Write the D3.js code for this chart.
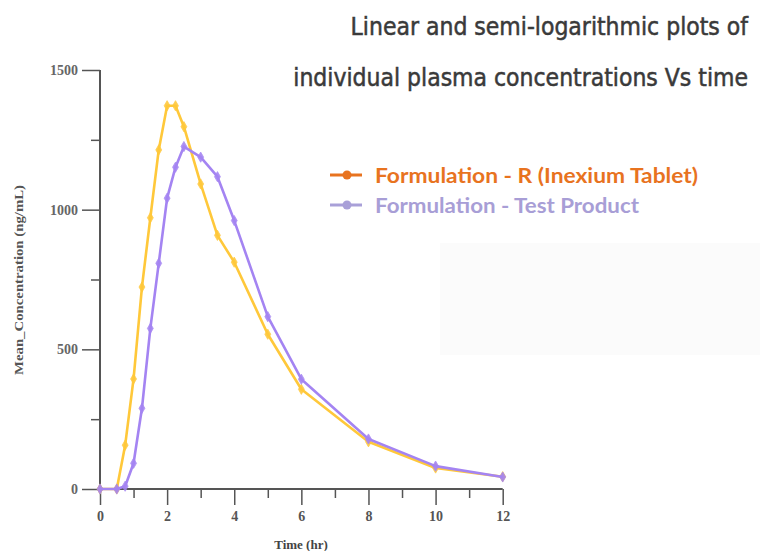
<!DOCTYPE html>
<html>
<head>
<meta charset="utf-8">
<script src="https://cdn.jsdelivr.net/npm/d3@7/dist/d3.min.js"></script>
<style>
  html, body { margin: 0; padding: 0; background: #fff; }
  svg { display: block; }
</style>
</head>
<body>
<svg id="chart" width="760" height="551"></svg>
<script>
// ---- data ----
const times = [0, 0.5, 0.75, 1, 1.25, 1.5, 1.75, 2, 2.25, 2.5, 3, 3.5, 4, 5, 6, 8, 10, 12];
const refValues  = [0, 0, 157, 394, 723, 971, 1214, 1372, 1372, 1297, 1092, 908, 812, 554, 357, 169, 75, 44];
const testValues = [0, 0, 10, 92, 289, 575, 808, 1041, 1152, 1226, 1188, 1118, 961, 617, 393, 179, 82, 43];
const seriesNames = ["Formulation - R (Inexium Tablet)", "Formulation - Test Product"];
const xTickValues = [0, 2, 4, 6, 8, 10, 12];
const xMinorTicks = [1, 3, 5, 7, 9, 11];
const yTickValues = [0, 500, 1000, 1500];
const yMinorTicks = [250, 750, 1250];
const titleLines = ["Linear and semi-logarithmic plots of", "individual plasma concentrations Vs time"];
const xLabel = "Time (hr)";
const yLabel = "Mean_Concentration (ng/mL)";

// ---- layout ----
const svg = d3.select("#chart");
const x = d3.scaleLinear().domain([0, 12]).range([100, 502.7]);
const y = d3.scaleLinear().domain([0, 1500]).range([489, 70]);
const axisColor = "#555";
const serif = "'Liberation Serif', 'DejaVu Serif', serif";

// faint background box
svg.append("rect").attr("x", 440).attr("y", 243).attr("width", 320).attr("height", 112)
  .attr("fill", "#fbfbfb");

// title (font size fitted to the reference width of the second line)
const titleFont = "'DejaVu Sans Condensed', 'Liberation Sans Narrow', sans-serif";
const titleTexts = titleLines.map((t, i) => svg.append("text")
  .attr("x", 748).attr("y", i === 0 ? 35 : 86).attr("text-anchor", "end")
  .attr("font-family", titleFont).attr("font-size", 26).attr("fill", "#3a3a3a")
  .attr("stroke", "#3a3a3a").attr("stroke-width", 0.5)
  .text(t));
const w2 = titleTexts[1].node().getComputedTextLength();
const fitSize = Math.min(28, 26 * 455 / w2);
titleTexts.forEach(t => t.attr("font-size", fitSize));

// y axis
const yAxis = d3.axisLeft(y).tickValues(yTickValues).tickSize(18).tickPadding(4).tickFormat(d3.format("d"));
const gy = svg.append("g").attr("transform", "translate(100,0)").call(yAxis);
gy.select(".domain").remove();
gy.selectAll(".tick line").attr("stroke", axisColor).attr("stroke-width", 1.5);
gy.selectAll(".tick text").attr("font-family", serif).attr("font-size", 14)
  .attr("font-weight", "bold").attr("fill", "#666");
const yMinor = d3.axisLeft(y).tickValues(yMinorTicks).tickSize(9).tickFormat("");
const gym = svg.append("g").attr("transform", "translate(100,0)").call(yMinor);
gym.select(".domain").remove();
gym.selectAll(".tick line").attr("stroke", axisColor).attr("stroke-width", 1.5);

// x axis
const xAxis = d3.axisBottom(x).tickValues(xTickValues).tickSize(16).tickPadding(6).tickFormat(d3.format("d"));
const gx = svg.append("g").attr("transform", "translate(0,489)").call(xAxis);
gx.select(".domain").remove();
gx.selectAll(".tick line").attr("stroke", axisColor).attr("stroke-width", 1.5);
gx.selectAll(".tick text").attr("font-family", serif).attr("font-size", 14)
  .attr("font-weight", "bold").attr("fill", "#555");
const xMinor = d3.axisBottom(x).tickValues(xMinorTicks).tickSize(9).tickFormat("");
const gxm = svg.append("g").attr("transform", "translate(0,489)").call(xMinor);
gxm.select(".domain").remove();
gxm.selectAll(".tick line").attr("stroke", axisColor).attr("stroke-width", 1.5);

// axis lines
svg.append("line").attr("x1", x(0)).attr("x2", x(0)).attr("y1", y(1500)).attr("y2", y(0))
  .attr("stroke", axisColor).attr("stroke-width", 2);
svg.append("line").attr("x1", x(0)).attr("x2", x(12)).attr("y1", y(0)).attr("y2", y(0))
  .attr("stroke", axisColor).attr("stroke-width", 2);

// axis labels
svg.append("text").attr("x", 301).attr("y", 549).attr("text-anchor", "middle")
  .attr("font-family", serif).attr("font-size", 13).attr("font-weight", "bold").attr("fill", "#444")
  .text(xLabel);
svg.append("text").attr("transform", "translate(23,280) rotate(-90)").attr("text-anchor", "middle")
  .attr("font-family", serif).attr("font-size", 13).attr("font-weight", "bold").attr("fill", "#555")
  .attr("textLength", 190).attr("lengthAdjust", "spacingAndGlyphs")
  .text(yLabel);

// series
const series = [
  { name: seriesNames[0], values: refValues, color: "#FFC83A" },
  { name: seriesNames[1], values: testValues, color: "#A484F2" }
];
const line = d3.line().x(d => x(d[0])).y(d => y(d[1]));
series.forEach(s => {
  const pts = times.map((t, i) => [t, s.values[i]]);
  svg.append("path").datum(pts).attr("d", line).attr("fill", "none")
    .attr("stroke", s.color).attr("stroke-width", 2.6).attr("stroke-linejoin", "round");
  svg.append("g").selectAll("path").data(pts).join("path")
    .attr("transform", d => `translate(${x(d[0])},${y(d[1])})`)
    .attr("d", d3.symbol(d3.symbolDiamond, 30))
    .attr("fill", s.color).attr("stroke", s.color).attr("stroke-width", 0.8).attr("opacity", 0.9);
});

// legend
const legendFont = "Lato, 'Open Sans', sans-serif";
const legend = [
  { label: seriesNames[0], color: "#E8731F", text: "#E8731F", y: 175, ty: 183, len: 323 },
  { label: seriesNames[1], color: "#A9A0D8", text: "#A89ED6", y: 205, ty: 213, len: 264 }
];
legend.forEach(l => {
  svg.append("line").attr("x1", 330).attr("x2", 362).attr("y1", l.y).attr("y2", l.y)
    .attr("stroke", l.color).attr("stroke-width", 3);
  svg.append("circle").attr("cx", 347).attr("cy", l.y).attr("r", 4.5).attr("fill", l.color);
  svg.append("text").attr("x", 375).attr("y", l.ty).attr("font-family", legendFont)
    .attr("font-size", 21).attr("font-weight", "bold").attr("fill", l.text)
    .attr("textLength", l.len).attr("lengthAdjust", "spacingAndGlyphs")
    .text(l.label);
});
</script>
</body>
</html>
